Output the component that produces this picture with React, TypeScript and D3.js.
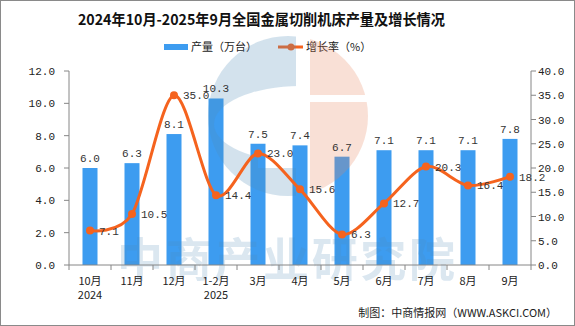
import React from "react";
import * as d3 from "d3";

const categories = ["10月", "11月", "12月", "1-2月", "3月", "4月", "5月", "6月", "7月", "8月", "9月"];
const subLabels = ["2024", "", "", "2025", "", "", "", "", "", "", ""];
const production = [6.0, 6.3, 8.1, 10.3, 7.5, 7.4, 6.7, 7.1, 7.1, 7.1, 7.8];
const growth = [7.1, 10.5, 35.0, 14.4, 23.0, 15.6, 6.3, 12.7, 20.3, 16.4, 18.2];
const leftTicks = [0, 2, 4, 6, 8, 10, 12];
const rightTicks = [0, 5, 10, 15, 20, 25, 30, 35, 40];

const W = 575, H = 326;
const PL = 69, PR = 531, PT = 71, PB = 265;
const BAR = "#3d9cf0";
const LINE = "#f5631e";
const NUM_FONT = "'Liberation Mono', monospace";
const CJK = "'Noto Sans CJK SC', sans-serif";

export default function App() {
  const x = d3.scaleBand<string>().domain(categories).range([PL, PR]).paddingInner(0).paddingOuter(0);
  const yL = d3.scaleLinear().domain([0, 12]).range([PB, PT]);
  const yR = d3.scaleLinear().domain([0, 40]).range([PB, PT]);
  const bw = 15;
  const cx = (c: string) => (x(c) as number) + x.bandwidth() / 2;
  const pts: [number, number][] = categories.map((c, i) => [cx(c), yR(growth[i])]);
  const lineGen = d3.line().curve(d3.curveCardinal.tension(0.1));
  const path = lineGen(pts) || "";
  const bounds = d3.range(categories.length + 1).map((i) => PL + i * x.bandwidth());

  const lc = { x: 288, y: 116, r: 80 };

  return (
    <svg width={W} height={H} style={{ position: "absolute", left: 0, top: 0, background: "#fff" }}>
      <defs>
        <clipPath id="circ">
          <circle cx={lc.x} cy={lc.y} r={lc.r} />
        </clipPath>
        <mask id="blueMask">
          <rect x={0} y={0} width={W} height={H} fill="#000" />
          <rect x={lc.x - lc.r} y={lc.y - lc.r} width={lc.r + 8} height={lc.r * 2} fill="#fff" />
          <ellipse cx={300} cy={124} rx={86} ry={38} fill="#000" />
          <rect x={258} y={150} width={50} height={18} fill="#000" />
        </mask>
        <mask id="orangeMask">
          <rect x={0} y={0} width={W} height={H} fill="#000" />
          <rect x={310} y={lc.y - lc.r} width={lc.r} height={lc.r * 2} fill="#fff" />
          <rect x={310} y={95} width={lc.r} height={7} fill="#000" />
        </mask>
      </defs>

      <rect x={0.5} y={0.5} width={W - 1} height={H - 1} fill="#fff" stroke="#8a8a8a" />

      <text x={78} y={25} textAnchor="start" fontFamily={CJK} fontWeight="bold" fontSize={15} fill="#111" textLength={367} lengthAdjust="spacingAndGlyphs">
        2024年10月-2025年9月全国金属切削机床产量及增长情况
      </text>

      <rect x={164} y={44} width={24} height={6} fill={BAR} />
      <text x={191} y={51} fontFamily={CJK} fontSize={11} fill="#222">产量（万台）</text>
      <line x1={278} y1={47} x2={303} y2={47} stroke={LINE} strokeWidth={3} />
      <circle cx={291} cy={47} r={3.5} fill={LINE} />
      <text x={306} y={51} fontFamily={CJK} fontSize={11} fill="#222">增长率（%）</text>

      {categories.map((c, i) => (
        <rect key={c} x={cx(c) - bw / 2} y={yL(production[i])} width={bw} height={PB - yL(production[i])} fill={BAR} />
      ))}

      <g clipPath="url(#circ)">
        <g mask="url(#blueMask)">
          <rect x={lc.x - lc.r} y={lc.y - lc.r} width={lc.r * 2} height={lc.r * 2} fill="#4f8ab8" opacity={0.25} />
        </g>
        <g mask="url(#orangeMask)">
          <rect x={lc.x - lc.r} y={lc.y - lc.r} width={lc.r * 2} height={lc.r * 2} fill="#e7835b" opacity={0.25} />
        </g>
      </g>
      <text x={117} y={276} fontFamily={CJK} fontWeight="bold" fontSize={46} fill="#4f8ab8" opacity={0.2} textLength={338} lengthAdjust="spacing">
        中商产业研究院
      </text>

      <line x1={PL} y1={PT} x2={PL} y2={PB} stroke="#868686" />
      <line x1={PR} y1={PT} x2={PR} y2={PB} stroke="#868686" />
      <line x1={PL} y1={PB} x2={PR} y2={PB} stroke="#868686" />
      {leftTicks.map((t) => (
        <g key={"l" + t}>
          <line x1={PL - 5} y1={yL(t)} x2={PL} y2={yL(t)} stroke="#868686" />
          <text x={55} y={yL(t) + 4} textAnchor="end" fontFamily={NUM_FONT} fontSize={11} fill="#222">{t.toFixed(1)}</text>
        </g>
      ))}
      {rightTicks.map((t) => (
        <g key={"r" + t}>
          <line x1={PR} y1={yR(t)} x2={PR + 5} y2={yR(t)} stroke="#868686" />
          <text x={538} y={yR(t) + 4} textAnchor="start" fontFamily={NUM_FONT} fontSize={11} fill="#222">{t.toFixed(1)}</text>
        </g>
      ))}
      {bounds.map((b, i) => (
        <line key={"b" + i} x1={b} y1={PB} x2={b} y2={PB + 5} stroke="#868686" />
      ))}
      {categories.map((c, i) => (
        <g key={"xl" + c}>
          <text x={cx(c)} y={285} textAnchor="middle" fontFamily={CJK} fontSize={11} fill="#222">{c}</text>
          {subLabels[i] && (
            <text x={cx(c)} y={299} textAnchor="middle" fontFamily={CJK} fontSize={11} fill="#222">{subLabels[i]}</text>
          )}
        </g>
      ))}

      {categories.map((c, i) => (
        <text key={"bl" + c} x={cx(c)} y={yL(production[i]) - 6} textAnchor="middle" fontFamily={NUM_FONT} fontSize={11} fill="#333">
          {production[i].toFixed(1)}
        </text>
      ))}

      <path d={path} fill="none" stroke={LINE} strokeWidth={3} />
      {pts.map((p, i) => (
        <circle key={"p" + i} cx={p[0]} cy={p[1]} r={4} fill={LINE} />
      ))}
      {pts.map((p, i) => (
        <text key={"gl" + i} x={p[0] + 9} y={p[1] + 4} fontFamily={NUM_FONT} fontSize={11} fill="#333">
          {growth[i].toFixed(1)}
        </text>
      ))}

      <text x={557} y={317} textAnchor="end" fontFamily={CJK} fontSize={11} fill="#222">
        制图：中商情报网（WWW.ASKCI.COM）
      </text>
    </svg>
  );
}
